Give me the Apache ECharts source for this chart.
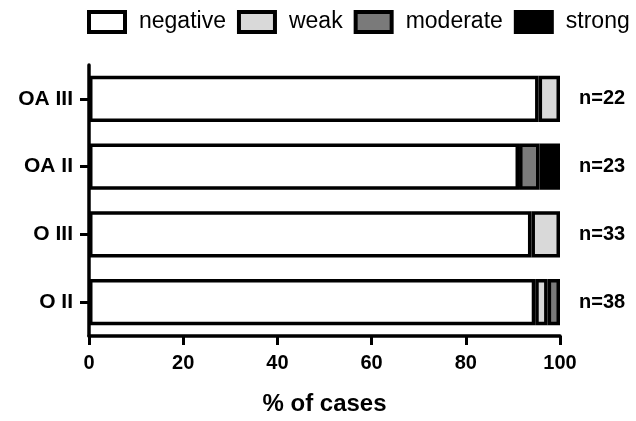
<!DOCTYPE html>
<html><head><meta charset="utf-8">
<script src="https://cdn.jsdelivr.net/npm/echarts@6/dist/echarts.min.js"></script>
<style>html,body{margin:0;padding:0;background:#fff}#c{width:636px;height:421px}</style>
</head><body><div id="c"></div>
<script>
const categories = ['OA III', 'OA II', 'O III', 'O II'];
const nLabels = ['n=22', 'n=23', 'n=33', 'n=38'];
const negative = [95.45, 91.30, 93.94, 94.74];
const weak = [4.55, '-', 6.06, 2.63];
const moderate = ['-', 4.35, '-', 2.63];
const strong = ['-', 4.35, '-', '-'];
const xTicks = [0, 20, 40, 60, 80, 100];

const FONT = '"Liberation Sans", Arial, sans-serif';
const chart = echarts.init(document.getElementById('c'));
function ser(name, data, color) {
  return {
    name, type: 'bar', stack: 'all', data, barWidth: '68%',
    itemStyle: { color, borderColor: '#000', borderWidth: 3.5 },
    emphasis: { disabled: true }
  };
}
chart.setOption({
  animation: false,
  textStyle: { fontFamily: FONT },
  legend: {
    top: 10, left: 87, width: 560, padding: 0, itemWidth: 36, itemHeight: 20, itemGap: 11,
    itemStyle: { borderColor: '#000', borderWidth: 4, borderRadius: 2 },
    textStyle: { fontSize: 23, color: '#000', fontFamily: FONT, padding: [0, 0, 0, 9] },
    data: ['negative', 'weak', 'moderate', 'strong'],
    icon: 'rect'
  },
  grid: { left: 89, right: 76, top: 65, bottom: 81 },
  xAxis: {
    type: 'value', min: 0, max: 100, interval: 20,
    axisLine: { show: true, lineStyle: { color: '#000', width: 3.5 } },
    axisTick: { show: true, length: 9, lineStyle: { color: '#000', width: 3 } },
    splitLine: { show: false },
    axisLabel: { color: '#000', fontSize: 20, fontWeight: 'bold', margin: 17, fontFamily: FONT,
      formatter: v => xTicks.includes(v) ? String(v) : '' },
    name: '% of cases', nameLocation: 'middle', nameGap: 56,
    nameTextStyle: { color: '#000', fontSize: 24, fontWeight: 'bold', fontFamily: FONT }
  },
  yAxis: [{
    type: 'category', data: categories, inverse: true,
    axisLine: { show: true, lineStyle: { color: '#000', width: 3.5 } },
    axisTick: { show: true, length: 9, alignWithLabel: true, lineStyle: { color: '#000', width: 3 } },
    axisLabel: { color: '#000', fontSize: 21, fontWeight: 'bold', margin: 16, fontFamily: FONT }
  }, {
    type: 'category', data: nLabels, inverse: true, position: 'right',
    axisLine: { show: false }, axisTick: { show: false },
    axisLabel: { color: '#000', fontSize: 20, fontWeight: 'bold', margin: 19, fontFamily: FONT }
  }],
  series: [
    ser('negative', negative, '#ffffff'),
    ser('weak', weak, '#d9d9d9'),
    ser('moderate', moderate, '#7a7a7a'),
    ser('strong', strong, '#000000')
  ]
});
</script></body></html>
